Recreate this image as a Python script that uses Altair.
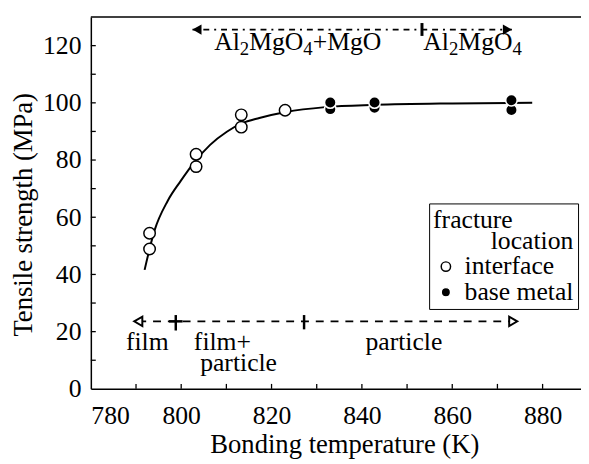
import altair as alt
import pandas as pd

FONT = "Liberation Serif"

# ---- data ----
interface_x = [793.0, 793.0, 803.3, 803.3, 813.3, 813.3, 823.0]
interface_y = [48.9, 54.4, 77.7, 82.0, 91.5, 95.8, 97.4]
base_x = [833.0, 833.0, 842.8, 842.8, 873.1, 873.1]
base_y = [97.8, 100.1, 98.3, 100.1, 97.5, 100.9]

curve_x = [791.9, 794.1, 797.0, 799.9, 802.8, 806.4, 810.1, 813.4, 817.3, 823.2, 831.9, 843.0, 860.0, 877.7]
curve_y = [41.6, 55.4, 65.7, 72.7, 79.0, 85.3, 89.9, 92.8, 94.7, 96.8, 98.5, 99.3, 99.8, 100.0]

x_ticks = [780, 800, 820, 840, 860, 880]
y_ticks = [0, 20, 40, 60, 80, 100, 120]
x_minor = [790, 800, 810, 820, 830, 840, 850, 860, 870, 880]
y_minor = [10, 20, 30, 40, 50, 60, 70, 80, 90, 100, 110, 120]

# annotation ranges (oxide phase, top) and (fracture mode, bottom)
top_range = [802.5, 873.2]
top_y = 125.6
top_split = 853.3
top_label_y = 118.6
formula_a = [("Al", False), ("2", True), ("MgO", False), ("4", True), ("+MgO", False)]
formula_b = [("Al", False), ("2", True), ("MgO", False), ("4", True)]
formula_a_x = 807.3
formula_b_x = 853.6

bot_range = [790.5, 873.5]
bot_y = 23.6
bot_plus = 798.8
bot_split = 827.2
center_labels = ["film", "particle"]
center_label_x = [792.5, 849.3]
center_label_y = [13.6, 13.6]
left_labels = ["film+", "particle"]
left_label_x = [802.8, 804.2]
left_label_y = [13.6, 6.1]

W, H = 497, 377
FS = 26
SUB = 19
ADV = {"A": .722, "l": .278, "M": .889, "g": .5, "O": .722, "+": .564, "2": .5, "4": .5}

xs = alt.Scale(domain=[780, 888.5], nice=False, zero=False)
ys = alt.Scale(domain=[0, 130], nice=False)

xaxis = alt.Axis(values=x_ticks, title="Bonding temperature (K)", ticks=False, grid=False,
                 domainColor="black", domainWidth=1.5, labelFont=FONT, labelFontSize=26,
                 labelColor="black", labelPadding=14, titleFont=FONT, titleFontSize=27,
                 titleFontWeight="normal", titleColor="black", titleX=257, titleY=65,
                 titleBaseline="alphabetic", titleAlign="center")
yaxis = alt.Axis(values=y_ticks, title="Tensile strength (MPa)", ticks=False, grid=False,
                 domainColor="black", domainWidth=1.5, labelFont=FONT, labelFontSize=26,
                 labelColor="black", labelPadding=10, titleFont=FONT, titleFontSize=27,
                 titleFontWeight="normal", titleColor="black", titleX=-60, titleY=200,
                 titleBaseline="alphabetic", titleAlign="center", titleAngle=-90)

X = alt.X("x:Q", scale=xs, axis=xaxis)
Y = alt.Y("y:Q", scale=ys, axis=yaxis)

curve_df = pd.DataFrame({"x": curve_x, "y": curve_y})
curve = alt.Chart(curve_df).mark_line(color="black", strokeWidth=2, interpolate="monotone").encode(x=X, y=Y)

pts_df = pd.DataFrame({
    "x": interface_x + base_x,
    "y": interface_y + base_y,
    "type": ["interface"] * len(interface_x) + ["base metal"] * len(base_x),
    "o": list(range(len(interface_x) + len(base_x))),
})
legend = alt.Legend(
    title=["fracture", "\u200b" + "\u00a0" * 9 + "location"], orient="none", legendX=343, legendY=189,
    strokeColor="black", fillColor="white", padding=4, titleFont=FONT, titleFontSize=26,
    titleFontWeight="normal", titleColor="black", titleLineHeight=21, titlePadding=0,
    labelFont=FONT, labelFontSize=26, labelColor="black", symbolSize=90,
    symbolStrokeWidth=1.5, rowPadding=-5, labelOffset=6,
)
pts = alt.Chart(pts_df).mark_point(filled=True, size=135, strokeWidth=1.5, opacity=1).encode(
    x=X, y=Y,
    fill=alt.Fill("type:N", scale=alt.Scale(domain=["interface", "base metal"], range=["white", "black"]), legend=legend),
    stroke=alt.Stroke("type:N", scale=alt.Scale(domain=["interface", "base metal"], range=["black", "white"]), legend=legend),
    order=alt.Order("o:Q"),
)

xt_df = pd.DataFrame({"x": x_minor})
xticks = alt.Chart(xt_df).mark_rule(color="black", strokeWidth=1.3).encode(
    x=X, y=alt.value(H), y2=alt.value(H - 5))
yt_df = pd.DataFrame({"y": y_minor})
yticks = alt.Chart(yt_df).mark_rule(color="black", strokeWidth=1.3).encode(
    y=Y, x=alt.value(0), x2=alt.value(5))
top_border = alt.Chart(pd.DataFrame({"a": [0]})).mark_rule(color="black", strokeWidth=1.5).encode(
    x=alt.value(0), x2=alt.value(W), y=alt.value(0))

top_line = alt.Chart(pd.DataFrame({"x": [top_range[0]], "x2": [top_range[1]], "y": [top_y]})).mark_rule(
    color="black", strokeWidth=1.8, strokeDash=[6, 5, 6, 5, 2, 5]).encode(x=X, x2="x2:Q", y=Y)
top_bar = alt.Chart(pd.DataFrame({"x": [top_split], "y": [top_y - 2.2], "y2": [top_y + 2.3]})).mark_rule(
    color="black", strokeWidth=3).encode(x=X, y=Y, y2="y2:Q")
top_heads = alt.layer(
    alt.Chart(pd.DataFrame({"x": [top_range[0] + 1.0], "y": [top_y]})).mark_point(
        shape="triangle-left", filled=True, color="black", size=110, opacity=1).encode(x=X, y=Y),
    alt.Chart(pd.DataFrame({"x": [top_range[1] - 1.0], "y": [top_y]})).mark_point(
        shape="triangle-right", filled=True, color="black", size=110, opacity=1).encode(x=X, y=Y),
)


def formula_layers(pieces, x0, y0):
    layers = []
    off = 0.0
    for txt, sub in pieces:
        size = SUB if sub else FS
        df = pd.DataFrame({"x": [x0], "y": [y0], "t": [txt]})
        layers.append(alt.Chart(df).mark_text(
            font=FONT, fontSize=size, color="black", align="left", baseline="alphabetic",
            dx=round(off, 1), dy=5 if sub else 0).encode(x=X, y=Y, text="t:N"))
        off += sum(ADV.get(c, 0.5) for c in txt) * size
    return layers


top_text = formula_layers(formula_a, formula_a_x, top_label_y) + formula_layers(formula_b, formula_b_x, top_label_y)

bot_line = alt.Chart(pd.DataFrame({"x": [bot_range[0]], "x2": [bot_range[1]], "y": [bot_y]})).mark_rule(
    color="black", strokeWidth=1.8, strokeDash=[8, 7]).encode(x=X, x2="x2:Q", y=Y)
bot_plus_v = alt.Chart(pd.DataFrame({"x": [bot_plus], "y": [bot_y - 3.2], "y2": [bot_y + 2.2]})).mark_rule(
    color="black", strokeWidth=2.5).encode(x=X, y=Y, y2="y2:Q")
bot_plus_h = alt.Chart(pd.DataFrame({"x": [bot_plus - 1.5], "x2": [bot_plus + 1.5], "y": [bot_y]})).mark_rule(
    color="black", strokeWidth=2.5).encode(x=X, x2="x2:Q", y=Y)
bot_bar = alt.Chart(pd.DataFrame({"x": [bot_split], "y": [bot_y - 2.8], "y2": [bot_y + 2.2]})).mark_rule(
    color="black", strokeWidth=2.5).encode(x=X, y=Y, y2="y2:Q")
bot_heads = alt.layer(
    alt.Chart(pd.DataFrame({"x": [bot_range[0]], "y": [bot_y]})).mark_point(
        shape="triangle-left", filled=True, fill="white", stroke="black", strokeWidth=2, size=90, opacity=1).encode(x=X, y=Y),
    alt.Chart(pd.DataFrame({"x": [bot_range[1]], "y": [bot_y]})).mark_point(
        shape="triangle-right", filled=True, fill="white", stroke="black", strokeWidth=2, size=90, opacity=1).encode(x=X, y=Y),
)
bot_text_c = alt.Chart(pd.DataFrame({"x": center_label_x, "y": center_label_y, "t": center_labels})).mark_text(
    font=FONT, fontSize=FS, color="black", align="center", baseline="alphabetic").encode(x=X, y=Y, text="t:N")
bot_text_l = alt.Chart(pd.DataFrame({"x": left_label_x, "y": left_label_y, "t": left_labels})).mark_text(
    font=FONT, fontSize=FS, color="black", align="left", baseline="alphabetic").encode(x=X, y=Y, text="t:N")

chart = alt.layer(
    curve, xticks, yticks, top_border,
    top_line, top_bar, top_heads, *top_text,
    bot_line, bot_plus_v, bot_plus_h, bot_bar, bot_heads, bot_text_c, bot_text_l,
    pts,
).properties(
    width=W, height=H,
    autosize=alt.AutoSizeParams(type="none"),
    padding={"left": 84, "top": 6, "right": 0, "bottom": 70},
).configure_view(stroke=None)

chart.save("out.html", embed_options={"renderer": "svg", "actions": False})
